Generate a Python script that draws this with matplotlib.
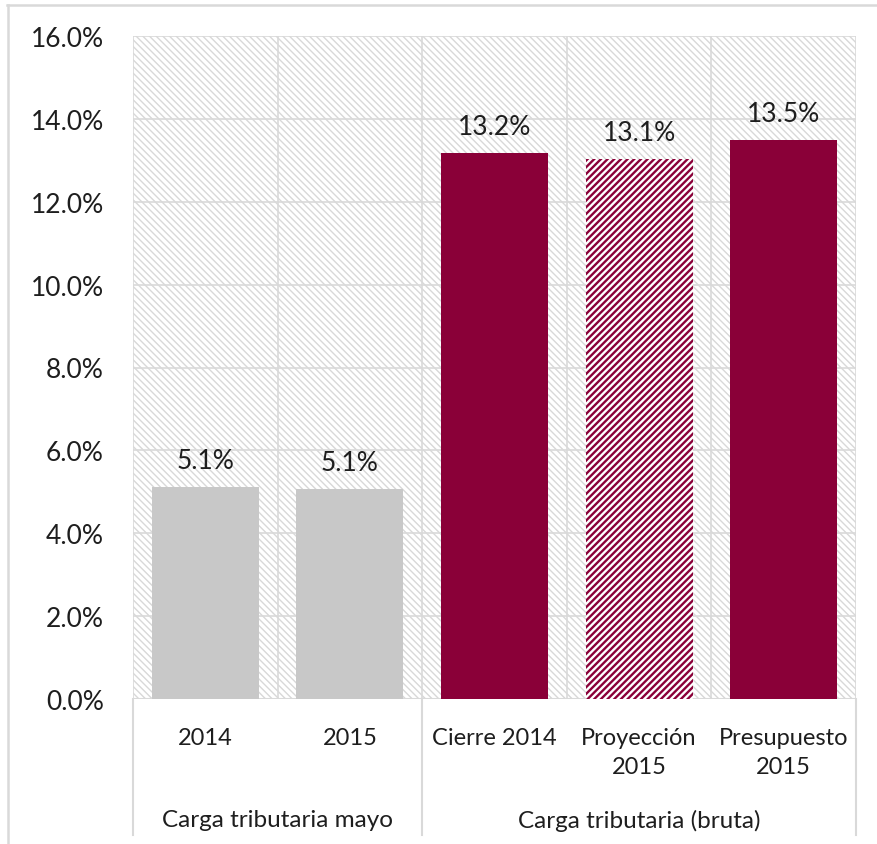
import numpy as np
import matplotlib.pyplot as plt
from matplotlib.patches import Rectangle
from matplotlib.lines import Line2D

# data
categories = ['2014', '2015', 'Cierre 2014', 'Proyección\n2015', 'Presupuesto\n2015']
values = [5.12, 5.07, 13.18, 13.04, 13.49]
labels = ['5.1%', '5.1%', '13.2%', '13.1%', '13.5%']
groups = ['Carga tributaria mayo', 'Carga tributaria (bruta)']
group_spans = [(0, 2), (2, 5)]

gray = '#C8C8C8'
crimson = '#8A0038'
grid_c = '#D9D9D9'
bar_colors = [gray, gray, crimson, crimson, crimson]
hatched = [False, False, False, True, False]

plt.rcParams['font.family'] = ['Lato', 'DejaVu Sans']

fig = plt.figure(figsize=(8.77, 8.45), dpi=100)
ax = fig.add_axes([133/877, 1 - 700/845, (856 - 133)/877, (700 - 37)/845])

x = np.arange(len(categories))
ax.set_xlim(-0.5, len(categories) - 0.5)
ax.set_ylim(0, 16)

# hatched background of the plot area
plt.rcParams['hatch.linewidth'] = 0.9
bg = Rectangle((0, 0), 1, 1, transform=ax.transAxes, facecolor='white',
               edgecolor='#D8D8D8', hatch='\\' * 5, lw=0, zorder=0)
ax.add_patch(bg)
if hasattr(bg, 'set_hatch_linewidth'):
    bg.set_hatch_linewidth(1.0)

# gridlines
for yv in np.arange(2, 17, 2):
    ax.axhline(yv, color=grid_c, lw=1.2, zorder=1)
for xv in np.arange(-0.5, len(categories), 1):
    ax.axvline(xv, color=grid_c, lw=1.2, zorder=1)
ax.axhline(0, color=grid_c, lw=1.5, zorder=1)

for i in range(len(categories)):
    if hatched[i]:
        b = ax.bar(x[i], values[i], width=0.74, facecolor='white',
                   edgecolor=crimson, hatch='/' * 5, lw=0, zorder=2)
        for p in b:
            if hasattr(p, 'set_hatch_linewidth'):
                p.set_hatch_linewidth(1.7)
    else:
        ax.bar(x[i], values[i], width=0.74, color=bar_colors[i], lw=0, zorder=2)
    ax.annotate(labels[i], (x[i], values[i]), xytext=(0, 10), textcoords='offset points',
                ha='center', va='bottom', fontsize=19, color='#1E1E1E')

for s in ax.spines.values():
    s.set_visible(False)

ax.set_yticks(np.arange(0, 17, 2))
ax.set_yticklabels(['%.1f%%' % v for v in np.arange(0, 17, 2)], fontsize=19, color='#1E1E1E')
ax.tick_params(axis='y', length=0, pad=21)
ax.set_xticks(x)
ax.set_xticklabels(categories, fontsize=17, color='#1E1E1E', linespacing=1.5)
ax.tick_params(axis='x', length=0, pad=20)

# group separators and labels below the axis
for xv in [-0.5, 1.5, 4.5]:
    ax.plot([xv, xv], [0, -0.205], transform=ax.get_xaxis_transform(),
            color=grid_c, lw=1.5, clip_on=False)
for g, (a, b) in zip(groups, group_spans):
    ax.text((a + b - 1) / 2, -0.182, g, transform=ax.get_xaxis_transform(),
            ha='center', va='center', fontsize=17.5, color='#1E1E1E')

# outer chart border
fig.add_artist(Line2D([7/877, 1], [1 - 5.5/845, 1 - 5.5/845], color=grid_c, lw=1.8))
fig.add_artist(Line2D([7.5/877, 7.5/877], [0, 1 - 5.5/845], color=grid_c, lw=1.8))

fig.savefig('out.png', dpi=100)
